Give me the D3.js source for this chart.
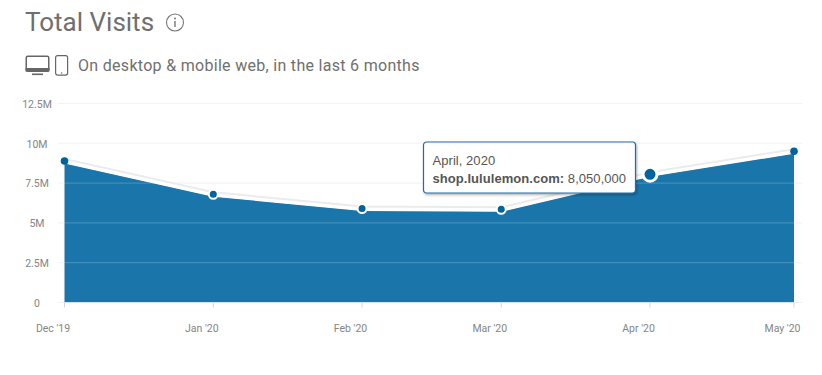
<!DOCTYPE html>
<html>
<head>
<meta charset="utf-8">
<script src="https://cdn.jsdelivr.net/npm/d3@7"></script>
<style>
  html, body { margin: 0; padding: 0; background: #fff; overflow: hidden; }
  svg { display: block; font-family: Roboto, sans-serif; }
</style>
</head>
<body>
<script>
const months = ["2019-12-01", "2020-01-01", "2020-02-01", "2020-03-01", "2020-04-01", "2020-05-01"]
const visits = [8890000, 6800000, 5900000, 5850000, 8050000, 9500000]
const yTicks = [0, 2500000, 5000000, 7500000, 10000000, 12500000]
const yLabels = ["0", "2.5M", "5M", "7.5M", "10M", "12.5M"]
const xLabels = ["Dec '19", "Jan '20", "Feb '20", "Mar '20", "Apr '20", "May '20"]
const activeIndex = 4

const width = 822, height = 375
const dates = months.map(d => new Date(d + "T00:00:00Z"))
const data = dates.map((d, i) => ({ date: d, value: visits[i] }))

const x = d3.scaleUtc().domain(d3.extent(dates)).range([64.5, 794])
const y = d3.scaleLinear().domain([0, 12500000]).range([302.5, 103.5])

const svg = d3.select("body").append("svg")
  .attr("width", width)
  .attr("height", height)

const defs = svg.append("defs")
const shadow = defs.append("filter")
  .attr("id", "tip-shadow")
  .attr("x", "-10%").attr("y", "-20%")
  .attr("width", "120%").attr("height", "150%")
shadow.append("feDropShadow")
  .attr("dx", 1).attr("dy", 1.5)
  .attr("stdDeviation", 1.2)
  .attr("flood-color", "#000")
  .attr("flood-opacity", 0.3)

// header
svg.append("text")
  .attr("x", 25).attr("y", 31)
  .attr("font-size", 26)
  .attr("fill", "#6f6f6f")
  .text("Total Visits")

const info = svg.append("g").attr("transform", "translate(175,22.5)")
info.append("circle").attr("r", 8.5).attr("fill", "none").attr("stroke", "#777").attr("stroke-width", 1.1)
info.append("rect").attr("x", -0.7).attr("y", -1.5).attr("width", 1.4).attr("height", 6).attr("fill", "#777")
info.append("circle").attr("cy", -4).attr("r", 1).attr("fill", "#777")

const monitor = svg.append("g").attr("transform", "translate(25.5,55.5)").attr("fill", "none").attr("stroke", "#666")
monitor.append("rect").attr("x", 0.75).attr("y", 0.75).attr("width", 22.5).attr("height", 15).attr("rx", 1.5).attr("stroke-width", 1.5)
monitor.append("rect").attr("x", 0).attr("y", 12.5).attr("width", 24).attr("height", 3.5).attr("fill", "#666").attr("stroke", "none")
monitor.append("line").attr("x1", 6.5).attr("x2", 17.5).attr("y1", 18.8).attr("y2", 18.8).attr("stroke-width", 1.6)

const phone = svg.append("g").attr("transform", "translate(55,55)").attr("fill", "none").attr("stroke", "#666")
phone.append("rect").attr("x", 0.6).attr("y", 0.6).attr("width", 12).attr("height", 19.5).attr("rx", 2).attr("stroke-width", 1.2)
phone.append("circle").attr("cx", 6.6).attr("cy", 18).attr("r", 0.7).attr("fill", "#666").attr("stroke", "none")

svg.append("text")
  .attr("x", 78).attr("y", 71)
  .attr("font-size", 16)
  .attr("letter-spacing", 0.3)
  .attr("fill", "#6f6f6f")
  .text("On desktop & mobile web, in the last 6 months")

// y axis labels and the grid under the area
const yAxis = svg.append("g")
  .attr("transform", "translate(58,0)")
  .call(d3.axisLeft(y).tickValues(yTicks).tickFormat((d, i) => yLabels[i]).tickSize(0).tickPadding(0).offset(0))
yAxis.select(".domain").remove()
yAxis.selectAll("line")
  .attr("x2", 744)
  .attr("stroke", "#f0f0f0")
  .attr("stroke-width", 1)
yAxis.selectAll("text")
  .attr("x", -21)
  .attr("y", 1)
  .attr("text-anchor", "middle")
  .attr("font-family", "Roboto, sans-serif")
  .attr("font-size", 10.5)
  .attr("fill", "#858585")

// area and its white outline
const area = d3.area().x(d => x(d.date)).y0(y(0)).y1(d => y(d.value) + 2.5)
const line = d3.line().x(d => x(d.date)).y(d => y(d.value))

svg.append("path").datum(data)
  .attr("d", area)
  .attr("fill", "#1a76aa")

// same grid again, faint over the blue
svg.append("g").selectAll("line")
  .data(yTicks.slice(1))
  .join("line")
  .attr("x1", 58)
  .attr("x2", 802)
  .attr("y1", d => y(d))
  .attr("y2", d => y(d))
  .attr("stroke", "#fff")
  .attr("stroke-opacity", 0.22)

svg.append("path").datum(data)
  .attr("d", line)
  .attr("transform", "translate(0,-1.5)")
  .attr("fill", "none")
  .attr("stroke", "#ebebeb")
  .attr("stroke-width", 3)
svg.append("path").datum(data)
  .attr("d", line)
  .attr("transform", "translate(0,0.5)")
  .attr("fill", "none")
  .attr("stroke", "#fff")
  .attr("stroke-width", 3)

const xAxis = svg.append("g")
  .attr("transform", "translate(0,302.5)")
  .call(d3.axisBottom(x).tickValues(dates).tickFormat((d, i) => xLabels[i]).tickSize(5).tickPadding(0).offset(0))
xAxis.select(".domain").attr("stroke", "#d8e2ef").attr("d", "M64.5,0H794")
xAxis.selectAll("line").attr("stroke", "#ccd6eb")
// labels sit left of their ticks in the original
xAxis.selectAll("text")
  .attr("x", -11.5)
  .attr("y", 29)
  .attr("dy", 0)
  .attr("font-family", "Roboto, sans-serif")
  .attr("font-size", 10.5)
  .attr("fill", "#858585")

// points
svg.append("g").selectAll("circle")
  .data(data)
  .join("circle")
  .attr("cx", d => x(d.date))
  .attr("cy", d => y(d.value))
  .attr("r", (d, i) => i === activeIndex ? 7 : (i === 0 || i === 5 ? 3.8 : 4.5))
  .attr("fill", "#00639e")
  .attr("stroke", "#fff")
  .attr("stroke-width", (d, i) => i === activeIndex ? 3 : (i === 0 || i === 5 ? 0 : 2))

// tooltip
const tip = svg.append("g").attr("transform", "translate(423.5,142)")
tip.append("rect")
  .attr("width", 212)
  .attr("height", 51)
  .attr("rx", 3)
  .attr("fill", "#fff")
  .attr("stroke", "#1a6ea5")
  .attr("stroke-width", 1.2)
  .attr("filter", "url(#tip-shadow)")
tip.append("text")
  .attr("x", 9).attr("y", 23)
  .attr("font-family", "'Liberation Sans', sans-serif")
  .attr("font-size", 13)
  .attr("letter-spacing", 0.05)
  .attr("fill", "#555")
  .text("April, 2020")
const tipLine = tip.append("text")
  .attr("x", 9).attr("y", 41)
  .attr("font-family", "'Liberation Sans', sans-serif")
  .attr("font-size", 13)
  .attr("letter-spacing", 0.05)
  .attr("fill", "#555")
tipLine.append("tspan").attr("font-weight", "bold").text("shop.lululemon.com:")
tipLine.append("tspan").text(" " + d3.format(",")(visits[activeIndex]))
</script>
</body>
</html>
